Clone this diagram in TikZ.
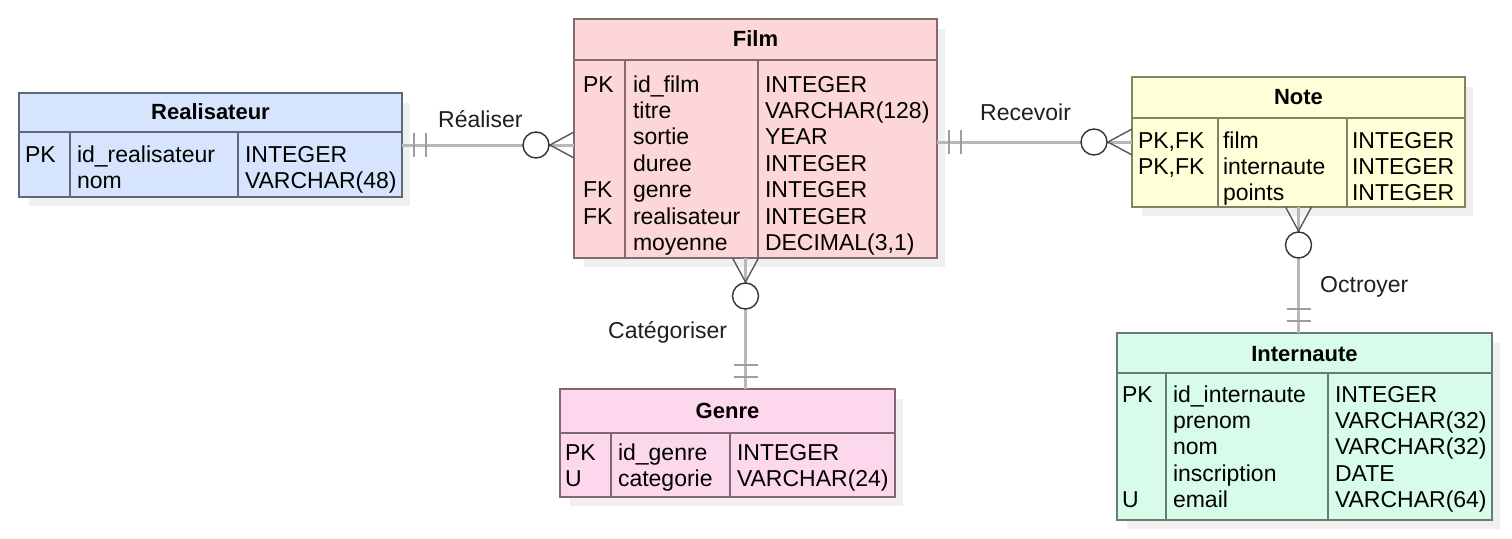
\documentclass[tikz,border=0pt]{standalone}
\usepackage{fontspec}
\setmainfont{Liberation Sans}
\newcommand{\tabfont}{\fontsize{23}{26.4}\selectfont}
\newcommand{\hdfont}{\fontsize{22}{26}\selectfont\bfseries}
\newcommand{\rs}{\rule{0pt}{18pt}}
\definecolor{realfill}{HTML}{D6E5FD}
\definecolor{realdraw}{HTML}{5E6878}
\definecolor{filmfill}{HTML}{FDD7D7}
\definecolor{filmdraw}{HTML}{866A6A}
\definecolor{notefill}{HTML}{FFFFD8}
\definecolor{notedraw}{HTML}{828264}
\definecolor{interfill}{HTML}{D7FDEA}
\definecolor{interdraw}{HTML}{687C74}
\definecolor{genrefill}{HTML}{FDD7EB}
\definecolor{genredraw}{HTML}{7E6874}
\begin{document}
\begin{tikzpicture}[x=1pt,y=-1pt,
  tbl/.style={draw, line width=2pt, rectangle, inner sep=0pt, outer sep=0pt, anchor=north west},
  shadow/.style={fill=black!6, draw=none},
  col/.style={anchor=north west, inner sep=0pt, outer sep=0pt, align=left, font=\tabfont},
  hd/.style={anchor=base, inner sep=0pt, font=\hdfont},
  lbl/.style={anchor=base west, inner sep=0pt, font=\tabfont, text=black!88},
  conn/.style={draw=black!28, line width=3pt},
  crow/.style={draw=black!65, line width=1.4pt},
  ring/.style={draw=black!80, line width=1.4pt, fill=white},
  barline/.style={draw=black!38, line width=2.2pt},
  zeromany/.pic={
    \draw[crow] (0,-13) -- (-24,0) -- (0,13);
    \draw[crow] (-24,0) -- (-26,0);
    \draw[ring] (-38,0) circle[radius=13];
  },
  onemand/.pic={
    \draw[barline] (12,-12) -- (12,12);
    \draw[barline] (24,-12) -- (24,12);
  }]
\useasboundingbox (0,0) rectangle (1512,538);
\fill[white] (0,0) rectangle (1512,538);

% shadows
\fill[shadow] (29,103) rectangle (410,206);
\fill[shadow] (584,29) rectangle (945,267);
\fill[shadow] (1142,87) rectangle (1473,216);
\fill[shadow] (1127,343) rectangle (1500,529);
\fill[shadow] (570,399) rectangle (903,506);

% Realisateur
\node[tbl, draw=realdraw, fill=realfill, minimum width=383, minimum height=104] (real) at (19,93) {};
\draw[realdraw, line width=2pt] (19,132) -- (402,132) (70,132) -- (70,197) (238,132) -- (238,197);
\node[hd] (real-h) at (210.5,119.5) {Realisateur};
\node[col] (real-k) at (25,144) {\rs PK};
\node[col] (real-n) at (77,144) {\rs id\_realisateur\\\rs nom};
\node[col] (real-t) at (245,144) {\rs INTEGER\\\rs VARCHAR(48)};

% Film
\node[tbl, draw=filmdraw, fill=filmfill, minimum width=363, minimum height=239] (film) at (574,19) {};
\draw[filmdraw, line width=2pt] (574,60) -- (937,60) (625,60) -- (625,258) (758,60) -- (758,258);
\node[hd] (film-h) at (755.5,46.5) {Film};
\node[col] (film-k) at (583,74) {\rs PK\\\rs\\\rs\\\rs\\\rs FK\\\rs FK\\\rs};
\node[col] (film-n) at (633,74) {\rs id\_film\\\rs titre\\\rs sortie\\\rs duree\\\rs genre\\\rs realisateur\\\rs moyenne};
\node[col] (film-t) at (765,74) {\rs INTEGER\\\rs VARCHAR(128)\\\rs YEAR\\\rs INTEGER\\\rs INTEGER\\\rs INTEGER\\\rs DECIMAL(3,1)};

% Note
\node[tbl, draw=notedraw, fill=notefill, minimum width=333, minimum height=130] (note) at (1132,77) {};
\draw[notedraw, line width=2pt] (1132,118) -- (1465,118) (1218,118) -- (1218,207) (1347,118) -- (1347,207);
\node[hd] (note-h) at (1298.5,104.5) {Note};
\node[col] (note-k) at (1138,130) {\rs PK,FK\\\rs PK,FK};
\node[col] (note-n) at (1223,130) {\rs film\\\rs internaute\\\rs points};
\node[col] (note-t) at (1352,130) {\rs INTEGER\\\rs INTEGER\\\rs INTEGER};

% Internaute
\node[tbl, draw=interdraw, fill=interfill, minimum width=375, minimum height=187] (inter) at (1117,333) {};
\draw[interdraw, line width=2pt] (1117,373) -- (1492,373) (1166,373) -- (1166,520) (1328,373) -- (1328,520);
\node[hd] (inter-h) at (1304.5,361) {Internaute};
\node[col] (inter-k) at (1122,384) {\rs PK\\\rs\\\rs\\\rs\\\rs U};
\node[col] (inter-n) at (1173,384) {\rs id\_internaute\\\rs prenom\\\rs nom\\\rs inscription\\\rs email};
\node[col] (inter-t) at (1335,384) {\rs INTEGER\\\rs VARCHAR(32)\\\rs VARCHAR(32)\\\rs DATE\\\rs VARCHAR(64)};

% Genre
\node[tbl, draw=genredraw, fill=genrefill, minimum width=335, minimum height=108] (genre) at (560,389) {};
\draw[genredraw, line width=2pt] (560,433) -- (895,433) (611,433) -- (611,497) (730,433) -- (730,497);
\node[hd] (genre-h) at (727.5,418) {Genre};
\node[col] (genre-k) at (565,442) {\rs PK\\\rs U};
\node[col] (genre-n) at (618,442) {\rs id\_genre\\\rs categorie};
\node[col] (genre-t) at (737,442) {\rs INTEGER\\\rs VARCHAR(24)};

% Realiser
\draw[conn] (real.east) -- (real.east -| film.west);
\pic at (real.east) {onemand};
\pic at (real.east -| film.west) {zeromany};
\node[lbl] (l-realiser) at (438,127) {Réaliser};

% Recevoir
\draw[conn] (film.east |- note.west) -- (note.west);
\pic at (film.east |- note.west) {onemand};
\pic at (note.west) {zeromany};
\node[lbl] (l-recevoir) at (980,120) {Recevoir};

% Categoriser
\coordinate (cat1) at ([xshift=-10pt]film.south);
\draw[conn] (cat1) -- (cat1 |- genre.north);
\pic[rotate=90] at (cat1) {zeromany};
\pic[rotate=90] at (cat1 |- genre.north) {onemand};
\node[lbl] (l-cat) at (608,338) {Catégoriser};

% Octroyer
\draw[conn] (note.south) -- (note.south |- inter.north);
\pic[rotate=90] at (note.south) {zeromany};
\pic[rotate=90] at (note.south |- inter.north) {onemand};
\node[lbl] (l-oct) at (1320,292) {Octroyer};
\end{tikzpicture}
\end{document}
